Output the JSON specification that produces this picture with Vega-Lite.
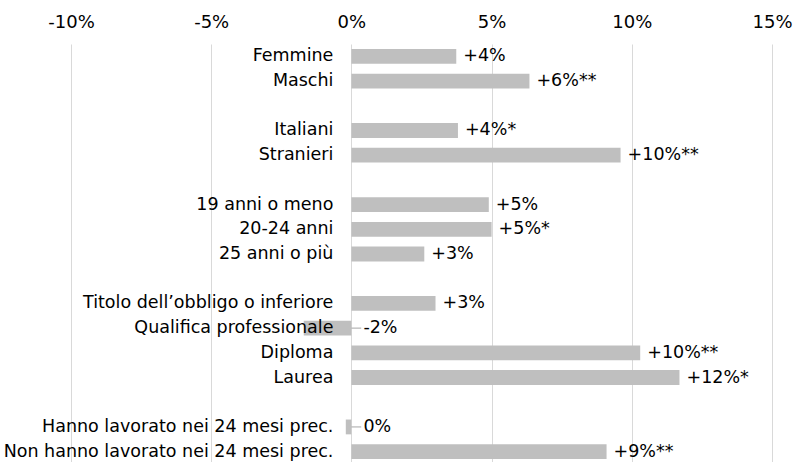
{
  "$schema": "https://vega.github.io/schema/vega-lite/v6.json",
  "autosize": {"type": "none"},
  "width": 701,
  "height": 420,
  "padding": {"left": 71, "top": 44, "right": 24, "bottom": 0},
  "background": "white",
  "config": {"view": {"stroke": null}, "font": "DejaVu Sans"},
  "data": {"values": [
    {"cat": "Femmine", "v": 3.74, "label": "+4%"},
    {"cat": "Maschi", "v": 6.35, "label": "+6%**"},
    {"cat": "Italiani", "v": 3.8, "label": "+4%*"},
    {"cat": "Stranieri", "v": 9.6, "label": "+10%**"},
    {"cat": "19 anni o meno", "v": 4.9, "label": "+5%"},
    {"cat": "20-24 anni", "v": 5.0, "label": "+5%*"},
    {"cat": "25 anni o più", "v": 2.6, "label": "+3%"},
    {"cat": "Titolo dell’obbligo o inferiore", "v": 3.0, "label": "+3%"},
    {"cat": "Qualifica professionale", "v": -1.7, "label": "-2%"},
    {"cat": "Diploma", "v": 10.3, "label": "+10%**"},
    {"cat": "Laurea", "v": 11.7, "label": "+12%*"},
    {"cat": "Hanno lavorato nei 24 mesi prec.", "v": -0.2, "label": "0%"},
    {"cat": "Non hanno lavorato nei 24 mesi prec.", "v": 9.1, "label": "+9%**"}
  ]},
  "encoding": {
    "y": {
      "field": "cat", "type": "nominal",
      "scale": {
        "domain": ["Femmine", "Maschi", "g1", "Italiani", "Stranieri", "g2", "19 anni o meno", "20-24 anni", "25 anni o più", "g3", "Titolo dell’obbligo o inferiore", "Qualifica professionale", "Diploma", "Laurea", "g4", "Hanno lavorato nei 24 mesi prec.", "Non hanno lavorato nei 24 mesi prec."],
        "paddingInner": 0.4, "paddingOuter": 0.2
      },
      "axis": null
    }
  },
  "layer": [
    {
      "mark": {"type": "bar", "color": "#bfbfbf"},
      "encoding": {
        "x": {
          "field": "v", "type": "quantitative",
          "scale": {"domain": [-10, 15], "nice": false, "zero": false},
          "axis": {
            "orient": "top", "title": null, "domain": false, "ticks": false,
            "values": [-10, -5, 0, 5, 10, 15],
            "labelExpr": "datum.value + '%'",
            "labelFlush": false, "labelOverlap": false,
            "labelFontSize": 18, "labelColor": "#000000", "labelPadding": 13,
            "grid": true, "gridColor": "#d9d9d9", "gridWidth": 1
          }
        },
        "x2": {"datum": 0}
      }
    },
    {
      "transform": [{"filter": "datum.v >= 0"}],
      "mark": {"type": "text", "align": "left", "baseline": "middle", "dx": 7, "fontSize": 17.5, "color": "#000000"},
      "encoding": {
        "x": {"field": "v", "type": "quantitative"},
        "text": {"field": "label"}
      }
    },
    {
      "transform": [{"filter": "datum.v < 0"}],
      "mark": {"type": "rule", "color": "#a6a6a6", "strokeWidth": 1},
      "encoding": {
        "x": {"datum": 0},
        "x2": {"datum": 0.35}
      }
    },
    {
      "transform": [{"filter": "datum.v < 0"}],
      "mark": {"type": "text", "align": "left", "baseline": "middle", "dx": 12, "fontSize": 17.5, "color": "#000000"},
      "encoding": {
        "x": {"datum": 0},
        "text": {"field": "label"}
      }
    },
    {
      "mark": {"type": "text", "align": "right", "baseline": "middle", "dx": -18, "fontSize": 17.5, "color": "#000000"},
      "encoding": {
        "x": {"datum": 0},
        "text": {"field": "cat"}
      }
    }
  ]
}
